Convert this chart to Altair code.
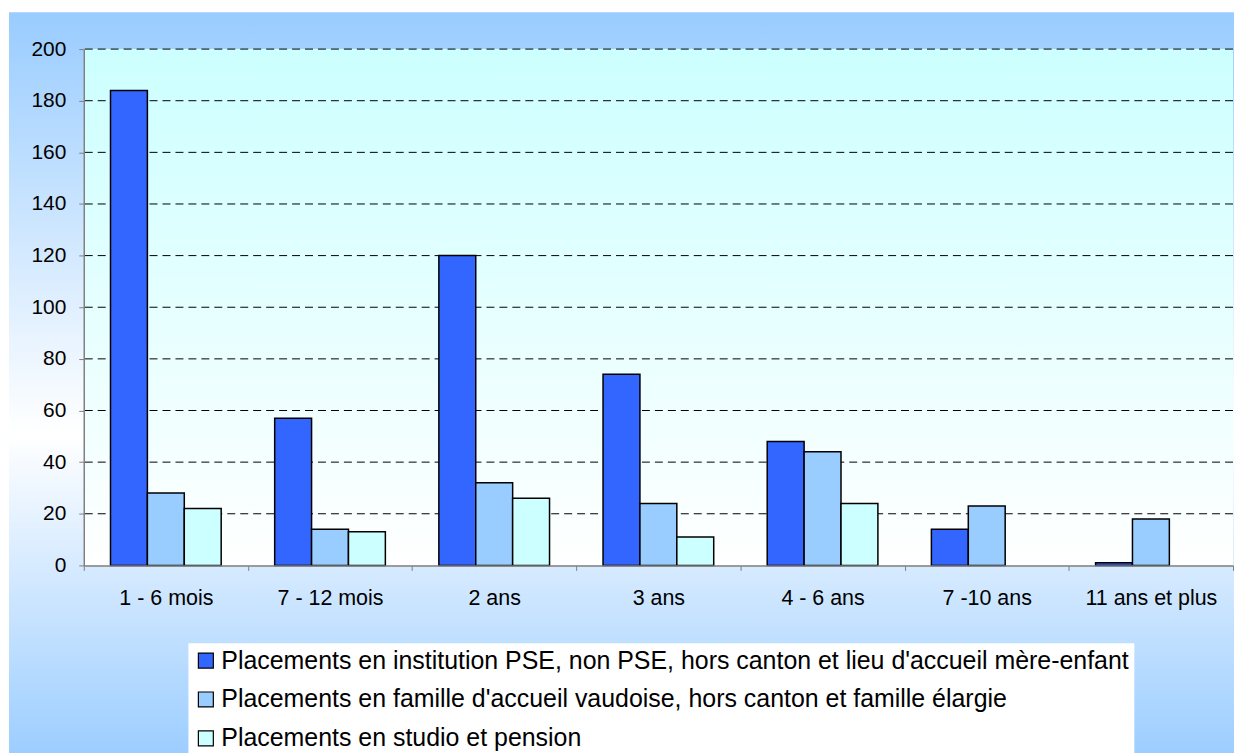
import altair as alt
import pandas as pd

# ---- data ----
categories = ["1 - 6 mois", "7 - 12 mois", "2 ans", "3 ans", "4 - 6 ans", "7 -10 ans", "11 ans et plus"]
series = [
    "Placements en institution PSE, non PSE, hors canton et lieu d'accueil mère-enfant",
    "Placements en famille d'accueil vaudoise, hors canton et famille élargie",
    "Placements en studio et pension",
]
institution = [184, 57, 120, 74, 48, 14, 1]
famille = [28, 14, 32, 24, 44, 23, 18]
studio = [22, 13, 26, 11, 24, 0, 0]
y_ticks = [0, 20, 40, 60, 80, 100, 120, 140, 160, 180, 200]
colors = ["#3366FF", "#99CCFF", "#CCFFFF"]

rows = []
for s, vals in zip(series, [institution, famille, studio]):
    for c, v in zip(categories, vals):
        rows.append({"cat": c, "series": s, "value": v})
df = pd.DataFrame(rows)
grid_df = pd.DataFrame({"v": [t for t in y_ticks if t > 0]})
one = pd.DataFrame({"a": [0]})

# ---- layout ----
W, H = 1153, 518
PAD_L, PAD_T, PAD_R, PAD_B = 76, 40, 1, 187
FONT = "Liberation Sans"

yscale = alt.Scale(domain=[0, 200], nice=False, zero=True)
y_axis = alt.Axis(
    title=None, values=y_ticks, labelFont=FONT, labelFontSize=21, labelColor="black",
    domainColor="#808080", domainWidth=1.5, tickColor="#808080", tickSize=5,
    labelPadding=13, grid=False, zindex=1,
)

outer_bg = alt.Chart(one).mark_rect(
    fill=alt.Gradient(
        gradient="linear", x1=0, x2=0, y1=0, y2=1,
        stops=[
            alt.GradientStop(color="#99CCFF", offset=0),
            alt.GradientStop(color="#FFFFFF", offset=0.56),
            alt.GradientStop(color="#99CCFF", offset=1),
        ],
    )
).encode(
    x=alt.value(-75), x2=alt.value(W + 1), y=alt.value(-37), y2=alt.value(H + 200)
)

plot_bg = alt.Chart(one).mark_rect(
    fill=alt.Gradient(
        gradient="linear", x1=0, x2=0, y1=0, y2=1,
        stops=[
            alt.GradientStop(color="#CCFFFF", offset=0),
            alt.GradientStop(color="#FFFFFF", offset=1),
        ],
    )
).encode(x=alt.value(0), x2=alt.value(W), y=alt.value(0), y2=alt.value(H))

grid = alt.Chart(grid_df).mark_rule(color="black", strokeWidth=1, strokeDash=[8, 5]).encode(
    y=alt.Y("v:Q", scale=yscale, axis=y_axis)
)

bars = alt.Chart(df).transform_filter("datum.value > 0").mark_bar(
    stroke="black", strokeWidth=1.5
).encode(
    x=alt.X(
        "cat:N", sort=categories,
        scale=alt.Scale(domain=categories, paddingInner=0, paddingOuter=0),
        axis=alt.Axis(
            title=None, labelAngle=0, tickBand="extent", labelFont=FONT, labelFontSize=21.5,
            labelColor="black", domainColor="#808080", domainWidth=1.5, tickColor="#808080",
            tickSize=5, labelPadding=17, grid=False, zindex=1,
        ),
    ),
    xOffset=alt.XOffset(
        "series:N", sort=series,
        scale=alt.Scale(domain=series, paddingInner=0, paddingOuter=0.725),
    ),
    y=alt.Y("value:Q", scale=yscale, axis=y_axis),
    color=alt.Color(
        "series:N", sort=series,
        scale=alt.Scale(domain=series, range=colors),
        legend=alt.Legend(
            title=None, orient="none", legendX=105, legendY=596, direction="vertical",
            fillColor="white", padding=5, labelFont=FONT, labelFontSize=25, labelColor="black",
            labelLimit=2000, symbolType="square", symbolSize=225, symbolStrokeColor="black",
            symbolStrokeWidth=1.2, rowPadding=13, labelOffset=3,
        ),
    ),
)

chart = alt.layer(outer_bg, plot_bg, grid, bars).properties(
    width=W, height=H,
    autosize=alt.AutoSizeParams(type="none"),
    padding={"left": PAD_L, "top": PAD_T, "right": PAD_R, "bottom": PAD_B},
).configure_view(stroke=None)

chart.save("out.html", embed_options={"renderer": "svg", "actions": False})
